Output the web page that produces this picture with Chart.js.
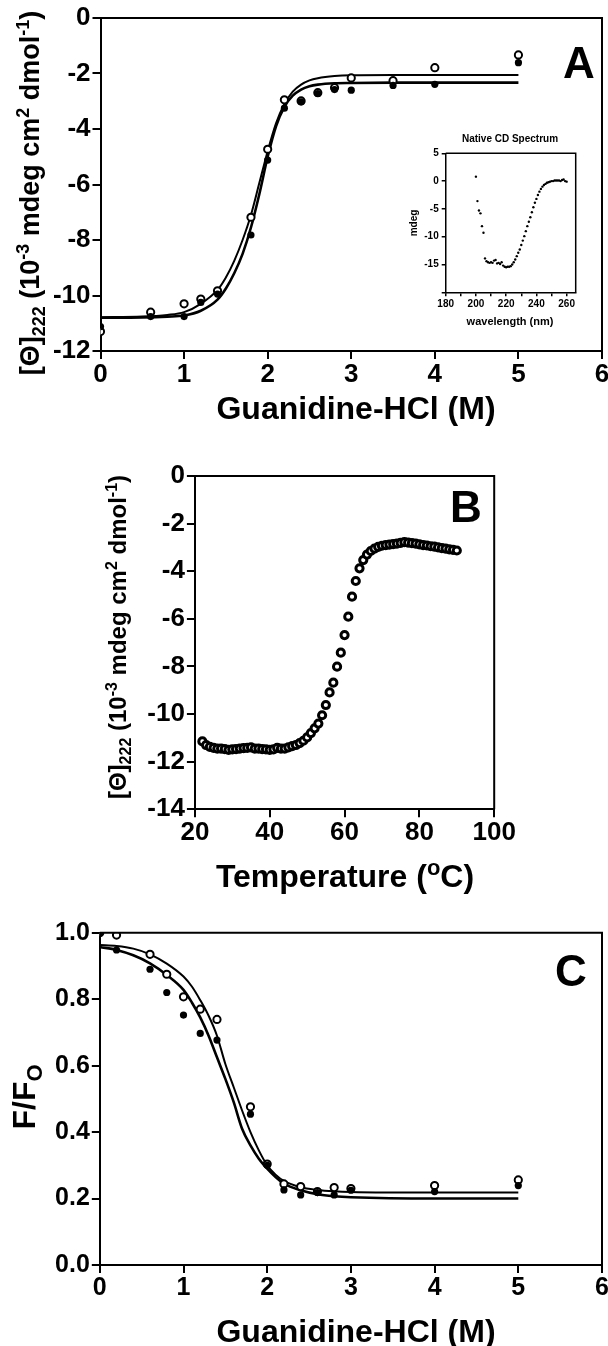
<!DOCTYPE html>
<html>
<head>
<meta charset="utf-8">
<script src="https://cdn.jsdelivr.net/npm/chart.js@4.4.1/dist/chart.umd.min.js"></script>
<style>
  html, body { margin:0; padding:0; background:#fff; }
  body { width:608px; height:1346px; position:relative; overflow:hidden; }
  canvas { position:absolute; }
</style>
</head>
<body>
<canvas id="cA" width="608" height="430" style="left:0;top:0"></canvas>
<canvas id="cIn" width="200" height="200" style="left:400px;top:128px"></canvas>
<canvas id="cB" width="608" height="458" style="left:0;top:440px"></canvas>
<canvas id="cC" width="608" height="446" style="left:0;top:900px"></canvas>
<script>
// ---------------- DATA ----------------
// Panel A: GdnHCl denaturation followed by CD at 222 nm
const aConc   = [0, 0.6, 1.0, 1.2, 1.4, 1.8, 2.0, 2.2, 2.4, 2.6, 2.8, 3.0, 3.5, 4.0, 5.0];
const aOpen   = [-11.3, -10.6, -10.3, -10.13, -9.83, -7.18, -4.73, -2.95, -2.99, -2.69, -2.51, -2.16, -2.26, -1.79, -1.33];
const aFilled = [-11.12, -10.76, -10.76, -10.25, -9.95, -7.82, -5.12, -3.25, -3.02, -2.72, -2.58, -2.6, -2.43, -2.39, -1.61];
const aFitX      = [0, 0.5, 0.8, 1.0, 1.2, 1.4, 1.5, 1.6, 1.7, 1.8, 1.9, 2.0, 2.1, 2.2, 2.3, 2.4, 2.5, 2.6, 2.8, 3.0, 3.5, 4.0, 5.0];
const aFitOpen   = [-10.78, -10.76, -10.7, -10.6, -10.3, -9.8, -9.35, -8.75, -8.0, -7.1, -5.95, -4.8, -3.8, -3.1, -2.65, -2.4, -2.25, -2.17, -2.09, -2.06, -2.05, -2.05, -2.05];
const aFitFilled = [-10.8, -10.79, -10.76, -10.72, -10.55, -10.15, -9.75, -9.2, -8.5, -7.55, -6.35, -5.0, -3.9, -3.2, -2.8, -2.58, -2.46, -2.4, -2.35, -2.34, -2.33, -2.33, -2.33];

// Inset: native CD spectrum
const cdWave = [200,201,202,203,204,205,206,207,208,209,210,211,212,213,214,215,216,217,218,219,220,
                221,222,223,224,225,226,227,228,229,230,231,232,233,234,235,236,237,238,239,240,
                241,242,243,244,245,246,247,248,249,250,251,252,253,254,255,256,257,258,259,260];
const cdMdeg = [0.8,-3.6,-5.3,-5.8,-8.1,-9.3,-13.9,-14.4,-14.6,-14.7,-14.6,-14.7,-14.3,-14.2,-14.8,-14.7,-14.9,-14.6,-15.2,-15.4,-15.5,
                -15.4,-15.4,-15.3,-15.0,-14.6,-14.1,-13.5,-12.9,-12.3,-11.5,-10.7,-9.9,-9.0,-8.1,-7.3,-6.5,-5.6,-4.7,-3.9,-3.2,
                -2.5,-1.9,-1.4,-1.0,-0.7,-0.5,-0.3,-0.2,-0.1,0.0,0.0,0.1,0.1,0.1,0.1,0.0,0.2,0.3,0.0,-0.1];

// Panel B: thermal denaturation
const bTemp = [22,23,24,25,26,27,28,29,30,31,32,33,34,35,36,37,38,39,40,41,42,43,44,45,46,47,48,49,50,
               51,52,53,54,55,56,57,58,59,60,61,62,63,64,65,66,67,68,69,70,71,72,73,74,75,76,77,78,79,80,
               81,82,83,84,85,86,87,88,89,90];
const bTheta = [-11.15,-11.3,-11.38,-11.42,-11.45,-11.45,-11.47,-11.5,-11.48,-11.47,-11.45,-11.43,-11.42,-11.4,-11.45,-11.45,-11.47,-11.48,-11.5,-11.48,-11.42,-11.45,-11.45,-11.4,-11.35,-11.3,-11.22,-11.12,-10.98,
                -10.8,-10.6,-10.4,-10.05,-9.62,-9.09,-8.68,-8.01,-7.42,-6.68,-5.91,-5.07,-4.41,-3.88,-3.53,-3.3,-3.15,-3.05,-2.98,-2.93,-2.9,-2.88,-2.86,-2.84,-2.81,-2.78,-2.8,-2.82,-2.84,-2.87,
                -2.9,-2.92,-2.95,-2.97,-3.0,-3.03,-3.05,-3.08,-3.1,-3.13];

// Panel C: intrinsic fluorescence
const cConc   = [0, 0.2, 0.6, 0.8, 1.0, 1.2, 1.4, 1.8, 2.0, 2.2, 2.4, 2.6, 2.8, 3.0, 4.0, 5.0];
const cOpen   = [1.0, 0.993, 0.935, 0.875, 0.807, 0.770, 0.739, 0.476, 0.304, 0.244, 0.236, 0.221, 0.233, 0.230, 0.239, 0.256];
const cFilled = [1.0, 0.948, 0.890, 0.820, 0.752, 0.697, 0.677, 0.454, 0.300, 0.226, 0.211, 0.218, 0.211, 0.225, 0.221, 0.239];
const cFitX      = [0, 0.2, 0.4, 0.6, 0.8, 1.0, 1.1, 1.2, 1.3, 1.4, 1.5, 1.6, 1.7, 1.8, 1.9, 2.0, 2.1, 2.2, 2.4, 2.6, 2.8, 3.0, 4.0, 5.0];
const cFitOpen   = [0.963, 0.96, 0.952, 0.935, 0.907, 0.868, 0.838, 0.797, 0.75, 0.69, 0.605, 0.535, 0.465, 0.40, 0.345, 0.30, 0.272, 0.253, 0.234, 0.226, 0.222, 0.22, 0.218, 0.218];
const cFitFilled = [0.957, 0.948, 0.932, 0.908, 0.873, 0.828, 0.79, 0.745, 0.69, 0.625, 0.56, 0.49, 0.41, 0.36, 0.32, 0.29, 0.265, 0.245, 0.225, 0.213, 0.207, 0.204, 0.2, 0.2];

// Tick settings
const aXTicks = [0, 6, 1];
const aYTicks = [-12, 0, 2];
const bXTicks = [20, 100, 20];
const bYTicks = [-14, 0, 2];
const cXTicks = [0, 6, 1];
const cYTicks = [0, 1, 0.2];
const inXTicks = [180, 266, 10];
const inYTicks = [-20, 5, 5];

// ---------------- HELPERS ----------------
const FAM = "'Liberation Sans', Arial, Helvetica, sans-serif";
const xy = (xs, ys) => xs.map((x, i) => ({ x: x, y: ys[i] }));

function drawRich(ctx, segs, x, y, size, rotate) {
  ctx.save();
  ctx.translate(x, y);
  if (rotate) ctx.rotate(-Math.PI / 2);
  const small = Math.round(size * 0.68);
  let total = 0;
  const ws = segs.map(s => {
    ctx.font = 'bold ' + (s[1] ? small : size) + 'px ' + FAM;
    const w = ctx.measureText(s[0]).width; total += w; return w;
  });
  let cx = -total / 2;
  ctx.fillStyle = '#000';
  ctx.textAlign = 'left';
  ctx.textBaseline = 'alphabetic';
  const base = size * 0.36;
  segs.forEach((s, i) => {
    ctx.font = 'bold ' + (s[1] ? small : size) + 'px ' + FAM;
    const dy = s[1] === 1 ? size * 0.22 : (s[1] === 2 ? -size * 0.36 : 0);
    ctx.fillText(s[0], cx, base + dy);
    cx += ws[i];
  });
  ctx.restore();
}

function decorPlugin(texts, lw) {
  return {
    id: 'decor',
    afterDraw(chart) {
      const ctx = chart.ctx, a = chart.chartArea;
      ctx.save();
      ctx.strokeStyle = '#000';
      ctx.lineWidth = lw;
      ctx.beginPath();
      ctx.moveTo(a.left, a.top); ctx.lineTo(a.right, a.top); ctx.lineTo(a.right, a.bottom);
      ctx.stroke();
      ctx.restore();
      texts.forEach(t => drawRich(ctx, t.segs, t.x, t.y, t.size, t.rot));
    }
  };
}

function scales(cfg) {
  const { W, H, L, T, R, B, xt, yt, tickSize, tickLen, lw, xPad, yPad, xCb, yCb } = cfg;
  const mk = (t, isX) => ({
    type: 'linear',
    min: t[0], max: t[1],
    border: { display: true, color: '#000', width: lw },
    grid: { display: true, drawOnChartArea: false, drawTicks: true, tickLength: tickLen, tickWidth: lw, tickColor: '#000', color: '#000', lineWidth: lw },
    ticks: {
      stepSize: t[2], includeBounds: false, autoSkip: false, maxRotation: 0, minRotation: 0,
      color: '#000', padding: isX ? xPad : yPad,
      font: { family: FAM, weight: 'bold', size: tickSize },
      callback: isX ? xCb : yCb
    },
    afterFit: s => {
      if (isX) { s.height = H - B; } else { s.width = L; }
      s.paddingLeft = 0; s.paddingRight = 0; s.paddingTop = 0; s.paddingBottom = 0;
    }
  });
  return { x: Object.assign(mk(xt, true), { position: 'bottom' }), y: Object.assign(mk(yt, false), { position: 'left' }) };
}

const baseOpts = (cfg) => ({
  responsive: false, maintainAspectRatio: false, animation: false, devicePixelRatio: 1,
  layout: { padding: { left: 0, top: cfg.T, right: cfg.W - cfg.R, bottom: 0 } },
  plugins: { legend: { display: false }, tooltip: { enabled: false }, title: { display: false } },
  scales: scales(cfg)
});

const openPts = (d, r) => ({ data: d, showLine: false, pointRadius: r, pointBorderWidth: 2, pointBackgroundColor: '#fff', pointBorderColor: '#000' });
const filledPts = (d, r) => ({ data: d, showLine: false, pointRadius: r, pointBorderWidth: 0, pointBackgroundColor: '#000', pointBorderColor: '#000' });
const fitLine = (d, w) => ({ data: d, showLine: true, pointRadius: 0, borderColor: '#000', borderWidth: w, cubicInterpolationMode: 'monotone', fill: false });
const intLabel = v => String(v);

// ---------------- PANEL A ----------------
const cfgA = { W: 608, H: 430, L: 100.5, T: 18, R: 604, B: 351, xt: aXTicks, yt: aYTicks, tickSize: 26, tickLen: 8, lw: 2, xPad: 0, yPad: 2, xCb: intLabel, yCb: intLabel };
new Chart(document.getElementById('cA'), {
  type: 'scatter',
  data: { datasets: [
    filledPts(xy(aConc, aFilled), 3.6),
    openPts(xy(aConc, aOpen), 3.6),
    fitLine(xy(aFitX, aFitOpen), 2),
    fitLine(xy(aFitX, aFitFilled), 2.6)
  ] },
  options: baseOpts(cfgA),
  plugins: [decorPlugin([
    { segs: [['[Θ]', 0], ['222', 1], [' (10', 0], ['-3', 2], [' mdeg cm', 0], ['2', 2], [' dmol', 0], ['-1', 2], [')', 0]], x: 29, y: 193, size: 27, rot: true },
    { segs: [['Guanidine-HCl (M)', 0]], x: 356, y: 407, size: 32 },
    { segs: [['A', 0]], x: 579, y: 62, size: 44 }
  ], 2)]
});

// ---------------- INSET ----------------
const cfgIn = { W: 200, H: 200, L: 45.7, T: 25.3, R: 175.7, B: 164.3, xt: inXTicks, yt: inYTicks, tickSize: 10, tickLen: 4, lw: 1.5, xPad: 2, yPad: 3,
  xCb: v => (v % 20 === 0 ? String(v) : ''), yCb: v => (v === -20 ? '' : String(v)) };
new Chart(document.getElementById('cIn'), {
  type: 'scatter',
  data: { datasets: [ { data: xy(cdWave, cdMdeg), showLine: false, pointRadius: 1.2, pointBorderWidth: 0, pointBackgroundColor: '#000' } ] },
  options: baseOpts(cfgIn),
  plugins: [decorPlugin([
    { segs: [['Native CD Spectrum', 0]], x: 110, y: 10, size: 10 },
    { segs: [['mdeg', 0]], x: 13, y: 95, size: 10, rot: true },
    { segs: [['wavelength (nm)', 0]], x: 110, y: 193.5, size: 11 }
  ], 1.5)]
});

// ---------------- PANEL B ----------------
const cfgB = { W: 608, H: 458, L: 194.9, T: 36, R: 494.2, B: 369.3, xt: bXTicks, yt: bYTicks, tickSize: 26, tickLen: 8, lw: 2, xPad: 0, yPad: 2, xCb: intLabel, yCb: intLabel };
new Chart(document.getElementById('cB'), {
  type: 'scatter',
  data: { datasets: [
    { data: xy(bTemp, bTheta), showLine: false, pointRadius: 3.6, pointBorderWidth: 3, pointBackgroundColor: '#fff', pointBorderColor: '#000' }
  ] },
  options: baseOpts(cfgB),
  plugins: [decorPlugin([
    { segs: [['[Θ]', 0], ['222', 1], [' (10', 0], ['-3', 2], [' mdeg cm', 0], ['2', 2], [' dmol', 0], ['-1', 2], [')', 0]], x: 117, y: 197, size: 24, rot: true },
    { segs: [['Temperature (', 0], ['o', 2], ['C)', 0]], x: 345, y: 435, size: 32 },
    { segs: [['B', 0]], x: 466, y: 66, size: 44 }
  ], 2)]
});

// ---------------- PANEL C ----------------
const cfgC = { W: 608, H: 446, L: 99.8, T: 32.7, R: 604, B: 365, xt: cXTicks, yt: cYTicks, tickSize: 25, tickLen: 8, lw: 2, xPad: 0, yPad: 2,
  xCb: intLabel, yCb: v => v.toFixed(1) };
new Chart(document.getElementById('cC'), {
  type: 'scatter',
  data: { datasets: [
    filledPts(xy(cConc, cFilled), 3.6),
    openPts(xy(cConc, cOpen), 3.6),
    fitLine(xy(cFitX, cFitOpen), 2),
    fitLine(xy(cFitX, cFitFilled), 2.6)
  ] },
  options: baseOpts(cfgC),
  plugins: [decorPlugin([
    { segs: [['F/F', 0], ['O', 1]], x: 23, y: 197, size: 32, rot: true },
    { segs: [['Guanidine-HCl (M)', 0]], x: 356, y: 430, size: 32 },
    { segs: [['C', 0]], x: 571, y: 70, size: 44 }
  ], 2)]
});
</script>
</body>
</html>
